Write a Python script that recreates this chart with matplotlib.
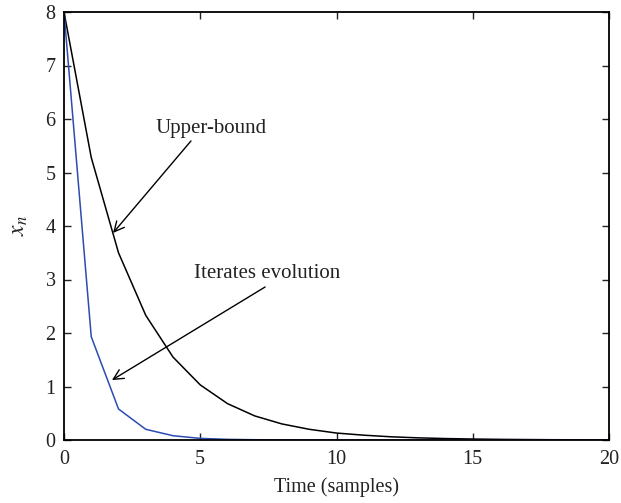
import matplotlib
matplotlib.use("Agg")
import matplotlib.pyplot as plt

time = list(range(21))
upper_bound = [8.0, 5.28, 3.5, 2.33, 1.55, 1.03, 0.68, 0.45, 0.3, 0.2, 0.13,
               0.09, 0.06, 0.04, 0.027, 0.018, 0.012, 0.008, 0.005, 0.003, 0.002]
iterates = [8.0, 1.93, 0.58, 0.2, 0.08, 0.03, 0.012, 0.005, 0.002, 0.001, 0.0,
            0.0, 0.0, 0.0, 0.0, 0.0, 0.0, 0.0, 0.0, 0.0, 0.0]
xticks = [0, 5, 10, 15, 20]
yticks = [0, 1, 2, 3, 4, 5, 6, 7, 8]

plt.rcParams['font.family'] = ['Liberation Serif', 'DejaVu Serif']
plt.rcParams['mathtext.fontset'] = 'stix'

fig = plt.figure(figsize=(6.21, 5.03), dpi=100)
ax = fig.add_axes([64/621, 1 - 440/503, 545/621, 428/503])

ax.plot(time, upper_bound, color='black', lw=1.1)
ax.plot(time, iterates, color='#2b4cb0', lw=1.1)

ax.set_xlim(0, 20)
ax.set_ylim(0, 8)
ax.set_xticks(xticks)
ax.set_yticks(yticks)
ax.tick_params(direction='in', length=5, labelsize=14.5, width=1, top=True, right=True,
               colors='#222222', labelcolor='#222222')
ax.tick_params(axis='x', pad=7)
ax.tick_params(axis='y', pad=6)
for s in ax.spines.values():
    s.set_linewidth(1.3)

ax.set_xlabel('Time (samples)', fontsize=14.5, color='#222222', labelpad=6)
ax.set_ylabel('$x_n$', fontsize=17, color='#222222', labelpad=11)

arrow = dict(arrowstyle='->', color='black', lw=1, shrinkA=0, shrinkB=0,
             mutation_scale=18)

ax.text(5.39, 5.83, 'Upper-bound', fontsize=15, color='#222222',
        ha='center', va='center')
ax.annotate('', xy=(1.8, 3.87), xytext=(4.66, 5.59), arrowprops=arrow)

ax.text(7.45, 3.12, 'Iterates evolution', fontsize=15, color='#222222',
        ha='center', va='center')
ax.annotate('', xy=(1.76, 1.12), xytext=(7.38, 2.86), arrowprops=arrow)

fig.savefig('out.png', dpi=100)
